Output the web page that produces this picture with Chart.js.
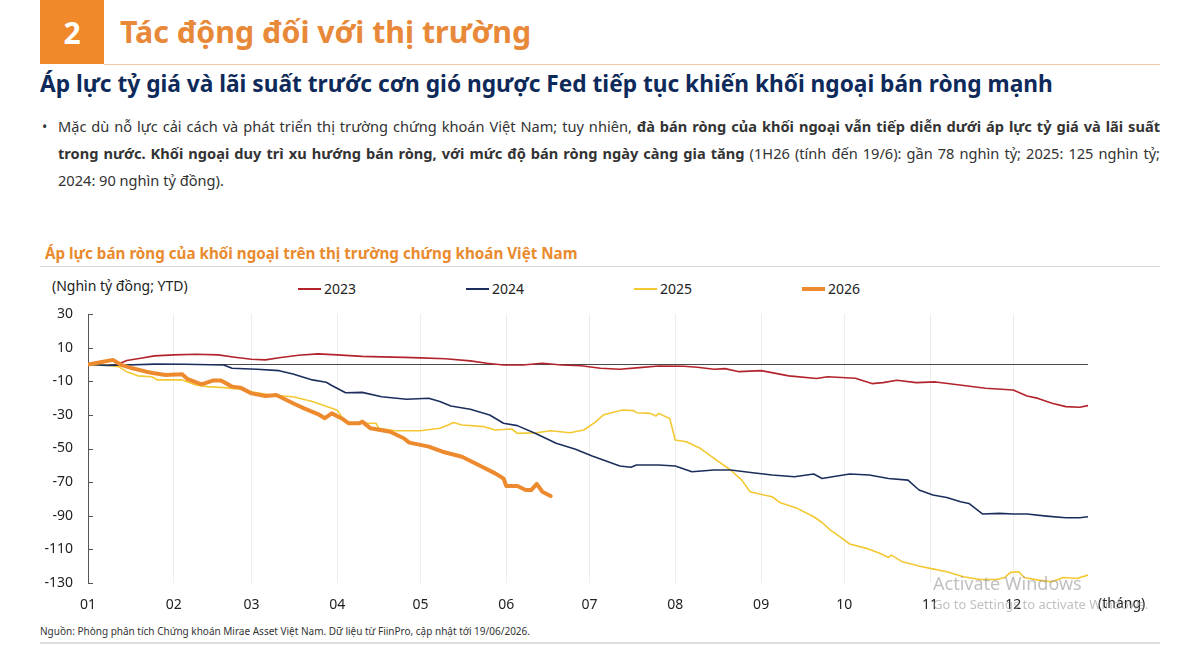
<!DOCTYPE html>
<html lang="vi">
<head>
<meta charset="utf-8">
<script src="https://cdn.jsdelivr.net/npm/chart.js@4.4.1/dist/chart.umd.min.js"></script>
<style>
  html, body { margin: 0; padding: 0; background: #fff; }
  body { width: 1200px; height: 650px; position: relative; overflow: hidden;
         font-family: "Noto Sans", "Open Sans", sans-serif; color: #222; }
  .abs { position: absolute; white-space: nowrap; }
  .box { left: 40px; top: 0; width: 64px; height: 64px; background: #F0892A; color: #fff;
         font-weight: 700; font-size: 30px; display: flex; align-items: center; justify-content: center; }
  .h1 { left: 120px; top: 13px; font-size: 30.3px; line-height: 38px; font-weight: 700; color: #E8893A; }
  .rule { height: 1px; }
  .sub { left: 40px; top: 70px; font-size: 22.7px; line-height: 28px; font-weight: 700; color: #0E2A5A; }
  .para { left: 58px; top: 113px; width: 1102px; font-size: 14.6px; line-height: 27px; color: #333; white-space: normal; }
  .para .j { text-align: justify; text-align-last: justify; }
  .bullet { left: 42px; top: 113px; font-size: 14px; line-height: 27px; color: #333; }
  .ctitle { left: 45px; top: 243px; font-size: 15.2px; line-height: 20px; font-weight: 700; color: #E98A2E; }
  .unit { left: 52px; top: 277px; font-size: 14px; line-height: 18px; }
  .leg { top: 280px; font-size: 14px; line-height: 18px; }
  .leg i { position: absolute; left: 0; width: 23px; }
  .leg span { position: absolute; left: 26px; top: 0; }
  .month { left: 1098px; top: 594px; font-size: 14px; line-height: 18px; }
  .src { left: 40px; top: 625px; font-size: 10px; line-height: 12px; color: #333; }
  .wm1 { left: 933px; top: 572px; font-size: 18px; line-height: 23px; color: rgba(140,140,140,0.55); }
  .wm2 { left: 933px; top: 596px; font-size: 13px; line-height: 17px; color: rgba(140,140,140,0.55); }
  canvas { position: absolute; left: 0; top: 300px; }
</style>
</head>
<body>
<div class="abs box">2</div>
<div class="abs h1">Tác động đối với thị trường</div>
<div class="abs rule" style="left:104px; top:64px; width:1056px; background:#EEC9A3;"></div>
<div class="abs sub">Áp lực tỷ giá và lãi suất trước cơn gió ngược Fed tiếp tục khiến khối ngoại bán ròng mạnh</div>
<div class="abs bullet">•</div>
<div class="abs para">
  <div class="j">Mặc dù nỗ lực cải cách và phát triển thị trường chứng khoán Việt Nam; tuy nhiên, <b>đà bán ròng của khối ngoại vẫn tiếp diễn dưới áp lực tỷ giá và lãi suất</b></div>
  <div class="j"><b>trong nước. Khối ngoại duy trì xu hướng bán ròng, với mức độ bán ròng ngày càng gia tăng</b> (1H26 (tính đến 19/6): gần 78 nghìn tỷ; 2025: 125 nghìn tỷ;</div>
  <div>2024: 90 nghìn tỷ đồng).</div>
</div>
<div class="abs ctitle">Áp lực bán ròng của khối ngoại trên thị trường chứng khoán Việt Nam</div>
<div class="abs rule" style="left:40px; top:266px; width:1120px; background:#D6D6D6;"></div>
<div class="abs unit">(Nghìn tỷ đồng; YTD)</div>
<div id="legend"></div>
<canvas id="chart" width="1200" height="320"></canvas>
<div class="abs month">(tháng)</div>
<div class="abs src">Nguồn: Phòng phân tích Chứng khoán Mirae Asset Việt Nam. Dữ liệu từ FiinPro, cập nhật tới 19/06/2026.</div>
<div class="abs rule" style="left:40px; top:642px; width:1120px; height:2px; background:#DDDDDD;"></div>
<div class="abs wm1">Activate Windows</div>
<div class="abs wm2">Go to Settings to activate Windows.</div>

<script>
// ngày trong năm (x) và giá trị lũy kế YTD (nghìn tỷ đồng)
const monthLabels = ['01', '02', '03', '04', '05', '06', '07', '08', '09', '10', '11', '12'];
const monthStartDays = [1, 32, 60, 91, 121, 152, 182, 213, 244, 274, 305, 335];
const yearLabels = ['2023', '2024', '2025', '2026'];

const days2023 = [1, 4, 10, 12, 15, 20, 25, 32, 40, 48, 54, 60, 65, 70, 77, 84, 91, 100, 107, 115, 121, 130, 139, 145, 151, 158, 165, 172, 179, 186, 193, 200, 207, 216, 221, 227, 231, 236, 244, 254, 264, 268, 278, 284, 288, 293, 300, 307, 315, 320, 325, 335, 340, 344, 349, 354, 359, 362];
const vals2023 = [0, 1, 2.7, 0.3, 2.3, 3.7, 5.1, 5.7, 6.1, 5.7, 4.3, 3.1, 2.7, 4.0, 5.5, 6.3, 5.7, 4.8, 4.5, 4.2, 3.9, 3.4, 2.1, 0.7, -0.3, -0.3, 0.7, -0.3, -0.8, -2.3, -2.9, -1.9, -0.9, -1.1, -1.7, -2.9, -2.5, -4.3, -3.7, -6.8, -8.4, -7.3, -8.2, -11.4, -10.8, -9.4, -10.8, -10.4, -12.1, -13.1, -14.2, -15.2, -18.8, -20.2, -23.1, -25.1, -25.5, -24.5];

const days2024 = [1, 8, 15, 25, 36, 50, 53, 62, 70, 75, 82, 87, 89, 94, 100, 107, 116, 124, 128, 132, 139, 146, 151, 156, 163, 170, 177, 183, 187, 193, 197, 199, 207, 213, 219, 227, 233, 241, 248, 256, 263, 266, 272, 276, 283, 290, 297, 301, 306, 311, 316, 319, 324, 330, 335, 340, 347, 354, 359, 362];
const vals2024 = [0, -0.6, -0.3, 0.2, 0.1, -0.3, -2.3, -2.9, -3.7, -5.7, -9.2, -10.6, -12.5, -16.8, -16.6, -19.2, -20.7, -20.1, -22.1, -24.7, -26.7, -30.1, -35, -36.4, -41.4, -46.9, -50.5, -54.5, -56.8, -60.4, -61.2, -59.8, -59.8, -60.4, -63.8, -62.8, -62.8, -64.4, -65.8, -66.8, -65.2, -67.8, -66.2, -65.2, -65.8, -67.8, -68.8, -74.7, -77.7, -79.1, -81.7, -82.7, -89, -88.6, -89, -89, -90.2, -91.2, -91.2, -90.6];

const days2025 = [1, 8, 12, 15, 19, 24, 26, 35, 40, 44, 50, 56, 60, 67, 75, 82, 88, 91, 93, 96, 105, 106, 112, 121, 128, 131, 133, 136, 144, 148, 154, 156, 163, 168, 175, 180, 184, 187, 190, 194, 198, 199, 204, 206, 207, 211, 213, 217, 222, 227, 233, 237, 240, 245, 248, 251, 257, 263, 266, 269, 272, 276, 282, 287, 290, 291, 295, 301, 305, 311, 317, 323, 329, 332, 334, 337, 339, 344, 349, 353, 358, 362];
const vals2025 = [0, -0.5, -1.3, -4.3, -6.8, -7.3, -9.2, -9.2, -12.2, -13.2, -13.8, -14.8, -16.2, -18.2, -19.2, -22.1, -25.5, -27.3, -32.1, -35, -35, -38, -39.4, -39.4, -38, -36, -34.5, -36, -37, -39, -38.4, -41, -40.6, -39.4, -40.6, -39, -34.5, -30.1, -28.7, -27.1, -27.5, -28.7, -29.1, -30.7, -29.1, -32.1, -44.9, -46, -49.9, -55.9, -62.8, -68.8, -75.7, -77.7, -78.7, -82.3, -85.6, -90.6, -94, -98.5, -102, -106.8, -109.4, -112.4, -114.8, -113.4, -117.4, -119.9, -121.3, -123.3, -126.3, -127.9, -127.9, -126.7, -123.7, -123.3, -126.7, -128.3, -129.3, -126.7, -127.3, -125.3];

const days2026 = [1, 5, 10, 13, 17, 22, 25, 29, 35, 37, 42, 46, 49, 53, 56, 60, 65, 69, 75, 79, 84, 86.5, 89, 93, 95, 99, 100, 103, 110, 115, 117, 124, 129, 136, 142, 148, 151, 152, 156, 159, 161, 163, 165, 168];
const vals2026 = [0, 1.2, 2.7, -0.3, -2.3, -4.3, -5.3, -6.3, -5.9, -8.8, -11.8, -9.6, -9.6, -13.2, -13.8, -17.2, -18.8, -18.2, -23.1, -26.1, -29.5, -32, -29.1, -32.5, -35, -35, -34, -38, -40, -43.9, -46.5, -48.9, -51.9, -54.9, -59.8, -64.8, -67.8, -72.3, -72.3, -74.7, -74.7, -71.1, -75.7, -78.3];

const yMin = -130, yMax = 30, yStep = 20;
const xMin = 1, xMax = 362;

const colors = ['#B3232C', '#1C2F5C', '#F3C832', '#EE8A2E'];
const widths = [1.6, 1.6, 1.6, 4];

const toPoints = (d, v) => d.map((x, i) => ({ x: x, y: v[i] }));
const series = [
    toPoints(days2023, vals2023),
    toPoints(days2024, vals2024),
    toPoints(days2025, vals2025),
    toPoints(days2026, vals2026)
];

// chú thích
const legendX = [298, 466, 634, 802];
const legend = document.getElementById('legend');
yearLabels.forEach((label, i) => {
    const item = document.createElement('div');
    item.className = 'abs leg';
    item.style.left = legendX[i] + 'px';
    item.innerHTML = '<i style="top:' + (9 - widths[i] / 2) + 'px;height:' + widths[i] + 'px;background:' + colors[i] + '"></i><span>' + label + '</span>';
    legend.appendChild(item);
});

// đường 0 và vạch chia trục tung
const extras = {
    id: 'extras',
    beforeDatasetsDraw(chart) {
        const { ctx, chartArea, scales } = chart;
        const y0 = Math.round(scales.y.getPixelForValue(0)) + 0.5;
        ctx.save();
        ctx.strokeStyle = '#4a4a4a';
        ctx.lineWidth = 1;
        ctx.beginPath();
        ctx.moveTo(chartArea.left, y0);
        ctx.lineTo(chartArea.right, y0);
        ctx.stroke();
        ctx.restore();
    },
    afterDraw(chart) {
        const { ctx, chartArea, scales } = chart;
        ctx.save();
        ctx.strokeStyle = '#555';
        ctx.lineWidth = 1;
        scales.y.ticks.forEach(t => {
            const py = Math.round(scales.y.getPixelForValue(t.value)) + 0.5;
            ctx.beginPath();
            ctx.moveTo(chartArea.left, py);
            ctx.lineTo(chartArea.left + 5, py);
            ctx.stroke();
        });
        ctx.restore();
    }
};

const ctx = document.getElementById('chart');
new Chart(ctx, {
    type: 'line',
    data: {
        datasets: series.map((pts, i) => ({
            label: yearLabels[i],
            data: pts,
            borderColor: colors[i],
            backgroundColor: colors[i],
            borderWidth: widths[i],
            pointRadius: 0,
            tension: 0,
            borderJoinStyle: 'round',
            borderCapStyle: 'round',
            order: i === 3 ? 0 : i + 1
        }))
    },
    options: {
        responsive: false,
        animation: false,
        devicePixelRatio: 1,
        layout: { padding: { top: 14, right: 112, left: 0, bottom: 0 } },
        plugins: { legend: { display: false }, tooltip: { enabled: false } },
        scales: {
            x: {
                type: 'linear',
                min: xMin,
                max: xMax,
                afterBuildTicks: s => { s.ticks = monthStartDays.map(v => ({ value: v })); },
                afterFit: s => { s.height = 37; },
                ticks: {
                    autoSkip: false,
                    maxRotation: 0,
                    padding: 14,
                    color: '#222',
                    font: { family: 'Noto Sans', size: 14 },
                    callback: (v, i) => monthLabels[i]
                },
                grid: {
                    drawTicks: false,
                    color: ctx => ctx.index === 0 ? 'rgba(0,0,0,0)' : '#EDEDED'
                },
                border: { display: false }
            },
            y: {
                min: yMin,
                max: yMax,
                afterFit: s => { s.width = 88; },
                ticks: {
                    stepSize: yStep,
                    padding: 0,
                    color: '#222',
                    font: { family: 'Noto Sans', size: 14 }
                },
                grid: { display: false, drawTicks: true, tickLength: 15 },
                border: { display: true, color: '#555', width: 1 }
            }
        }
    },
    plugins: [extras]
});
</script>
</body>
</html>
